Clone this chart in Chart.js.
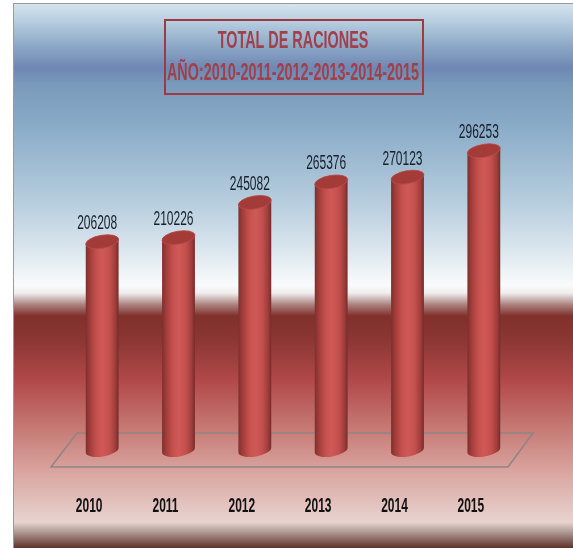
<!DOCTYPE html>
<html>
<head>
<meta charset="utf-8">
<style>
  html, body { margin: 0; padding: 0; background: #fff; }
  #wrap { width: 573px; height: 548px; }
</style>
<script src="https://cdn.jsdelivr.net/npm/chart.js@4/dist/chart.umd.min.js"></script>
</head>
<body>
<div id="wrap"><canvas id="racionesChart" width="573" height="548"></canvas></div>
<script>
const years = ["2010", "2011", "2012", "2013", "2014", "2015"];
const raciones = [206208, 210226, 245082, 265376, 270123, 296253];
const titleLines = ["TOTAL DE RACIONES", "AÑO:2010-2011-2012-2013-2014-2015"];

const font = "'Liberation Sans', Arial, sans-serif";
const tilt = -0.17;
const textSqueeze = 0.6;

// the reference text is a tall condensed face, no such font here so squeeze it
const canvas = document.getElementById("racionesChart");
const rawCtx = canvas.getContext("2d");
const rawFillText = rawCtx.fillText.bind(rawCtx);
rawCtx.fillText = function (text, x, y) {
  rawCtx.save();
  rawCtx.translate(x, y);
  rawCtx.scale(textSqueeze, 1);
  rawFillText(text, 0, 0);
  rawCtx.restore();
};

// cylinder drawn from the bar's own x / y / base / width
class CylinderElement extends Chart.BarElement {
  draw(ctx) {
    const { x, y, base, width } = this;
    const rx = width / 2 / Math.cos(tilt);
    const ry = 6.5;
    const left = x - width / 2;
    const g = ctx.createLinearGradient(left, 0, left + width, 0);
    g.addColorStop(0, "#7c302d");
    g.addColorStop(0.12, "#a03c39");
    g.addColorStop(0.32, "#c4504e");
    g.addColorStop(0.5, "#d05957");
    g.addColorStop(0.72, "#c4504e");
    g.addColorStop(0.9, "#a03d3a");
    g.addColorStop(1, "#742c2a");

    ctx.save();
    ctx.beginPath();
    ctx.ellipse(x, y, rx, ry, tilt, Math.PI, Math.PI * 2);
    ctx.ellipse(x, base, rx, ry, tilt, 0, Math.PI);
    ctx.closePath();
    ctx.fillStyle = g;
    ctx.fill();

    ctx.beginPath();
    ctx.ellipse(x, y, rx, ry, tilt, 0, Math.PI * 2);
    ctx.fillStyle = "#a33b38";
    ctx.fill();
    ctx.strokeStyle = "#bd4c49";
    ctx.lineWidth = 0.8;
    ctx.stroke();
    ctx.restore();
  }
}
CylinderElement.id = "cylinder";
CylinderElement.defaults = Chart.BarElement.defaults;
CylinderElement.defaultRoutes = Chart.BarElement.defaultRoutes;

class CylinderController extends Chart.BarController {}
CylinderController.id = "cylinderBar";
CylinderController.defaults = Object.assign({}, Chart.BarController.defaults, { dataElementType: "cylinder" });
CylinderController.overrides = Chart.BarController.overrides;

Chart.register(CylinderElement, CylinderController);

const backdrop = {
  id: "backdrop",
  beforeDraw(chart) {
    const { ctx, width, height } = chart;
    const top = 3, left = 13;
    const g = ctx.createLinearGradient(0, top, 0, height);
    const stops = [
      [3, "#d6e5ef"], [20, "#b9d0e1"], [45, "#8fa9c8"], [68, "#6f87b3"], [85, "#7a9abb"],
      [130, "#8cadc9"], [200, "#b5ccdd"], [250, "#dbe6ee"], [285, "#f9fbfc"], [293, "#f0eeee"],
      [305, "#a97f7c"], [316, "#81302b"], [340, "#8b3733"], [380, "#b1484a"], [420, "#c2716c"],
      [470, "#d9a39e"], [522, "#e8d3cf"], [532, "#b09a94"], [548, "#5f322b"]
    ];
    stops.forEach(([y, c]) => g.addColorStop((y - top) / (height - top), c));
    ctx.save();
    ctx.fillStyle = "#fff";
    ctx.fillRect(0, 0, width, height);
    ctx.fillStyle = g;
    ctx.fillRect(left, top, width - left, height - top);
    ctx.strokeStyle = "#9a9a9a";
    ctx.lineWidth = 1;
    ctx.beginPath();
    ctx.moveTo(left + 0.5, height);
    ctx.lineTo(left + 0.5, top + 0.5);
    ctx.lineTo(width, top + 0.5);
    ctx.stroke();

    // title frame
    ctx.strokeStyle = "#a03a3e";
    ctx.lineWidth = 2;
    ctx.strokeRect(165, 20, 258, 74);
    ctx.restore();
  },
  beforeDatasetsDraw(chart) {
    // floor under the cylinders
    const { ctx, chartArea } = chart;
    const y0 = chartArea.bottom;
    ctx.save();
    ctx.strokeStyle = "#8f8585";
    ctx.lineWidth = 1.5;
    ctx.beginPath();
    ctx.moveTo(chartArea.left - 13, y0 + 17);
    ctx.lineTo(chartArea.right - 14, y0 + 17);
    ctx.lineTo(chartArea.right + 11, y0 - 17);
    ctx.lineTo(chartArea.left + 13, y0 - 17);
    ctx.closePath();
    ctx.stroke();
    ctx.restore();
  },
  afterDatasetsDraw(chart) {
    const { ctx } = chart;
    const meta = chart.getDatasetMeta(0);
    ctx.save();
    ctx.font = "20px " + font;
    ctx.fillStyle = "#16202c";
    ctx.textAlign = "center";
    ctx.textBaseline = "middle";
    meta.data.forEach((bar, i) => {
      ctx.fillText(String(raciones[i]), bar.x - 5, bar.y - 18);
    });
    ctx.restore();
  }
};

new Chart(canvas, {
  type: "cylinderBar",
  data: {
    labels: years,
    datasets: [{
      label: "Total de raciones",
      data: raciones,
      backgroundColor: "#c4504e",
      barPercentage: 0.43,
      categoryPercentage: 1,
      clip: false
    }]
  },
  plugins: [backdrop],
  options: {
    responsive: false,
    animation: false,
    layout: { padding: { left: 64, right: 51, top: 0, bottom: 36 } },
    plugins: {
      legend: { display: false },
      tooltip: { enabled: false },
      title: {
        display: true,
        text: titleLines,
        color: "#a0404a",
        font: { family: font, size: 24, weight: "bold", lineHeight: 32 / 24 },
        padding: { top: 25, bottom: 7.5 }
      }
    },
    scales: {
      y: { display: false, min: 0, max: 350000 },
      x: {
        grid: { display: false },
        border: { display: false },
        afterFit(scale) { scale.height = 62; },
        ticks: {
          color: "#111",
          font: { family: font, size: 20, weight: "bold" },
          padding: 36,
          labelOffset: -13,
          maxRotation: 0
        }
      }
    }
  }
});
</script>
</body>
</html>
